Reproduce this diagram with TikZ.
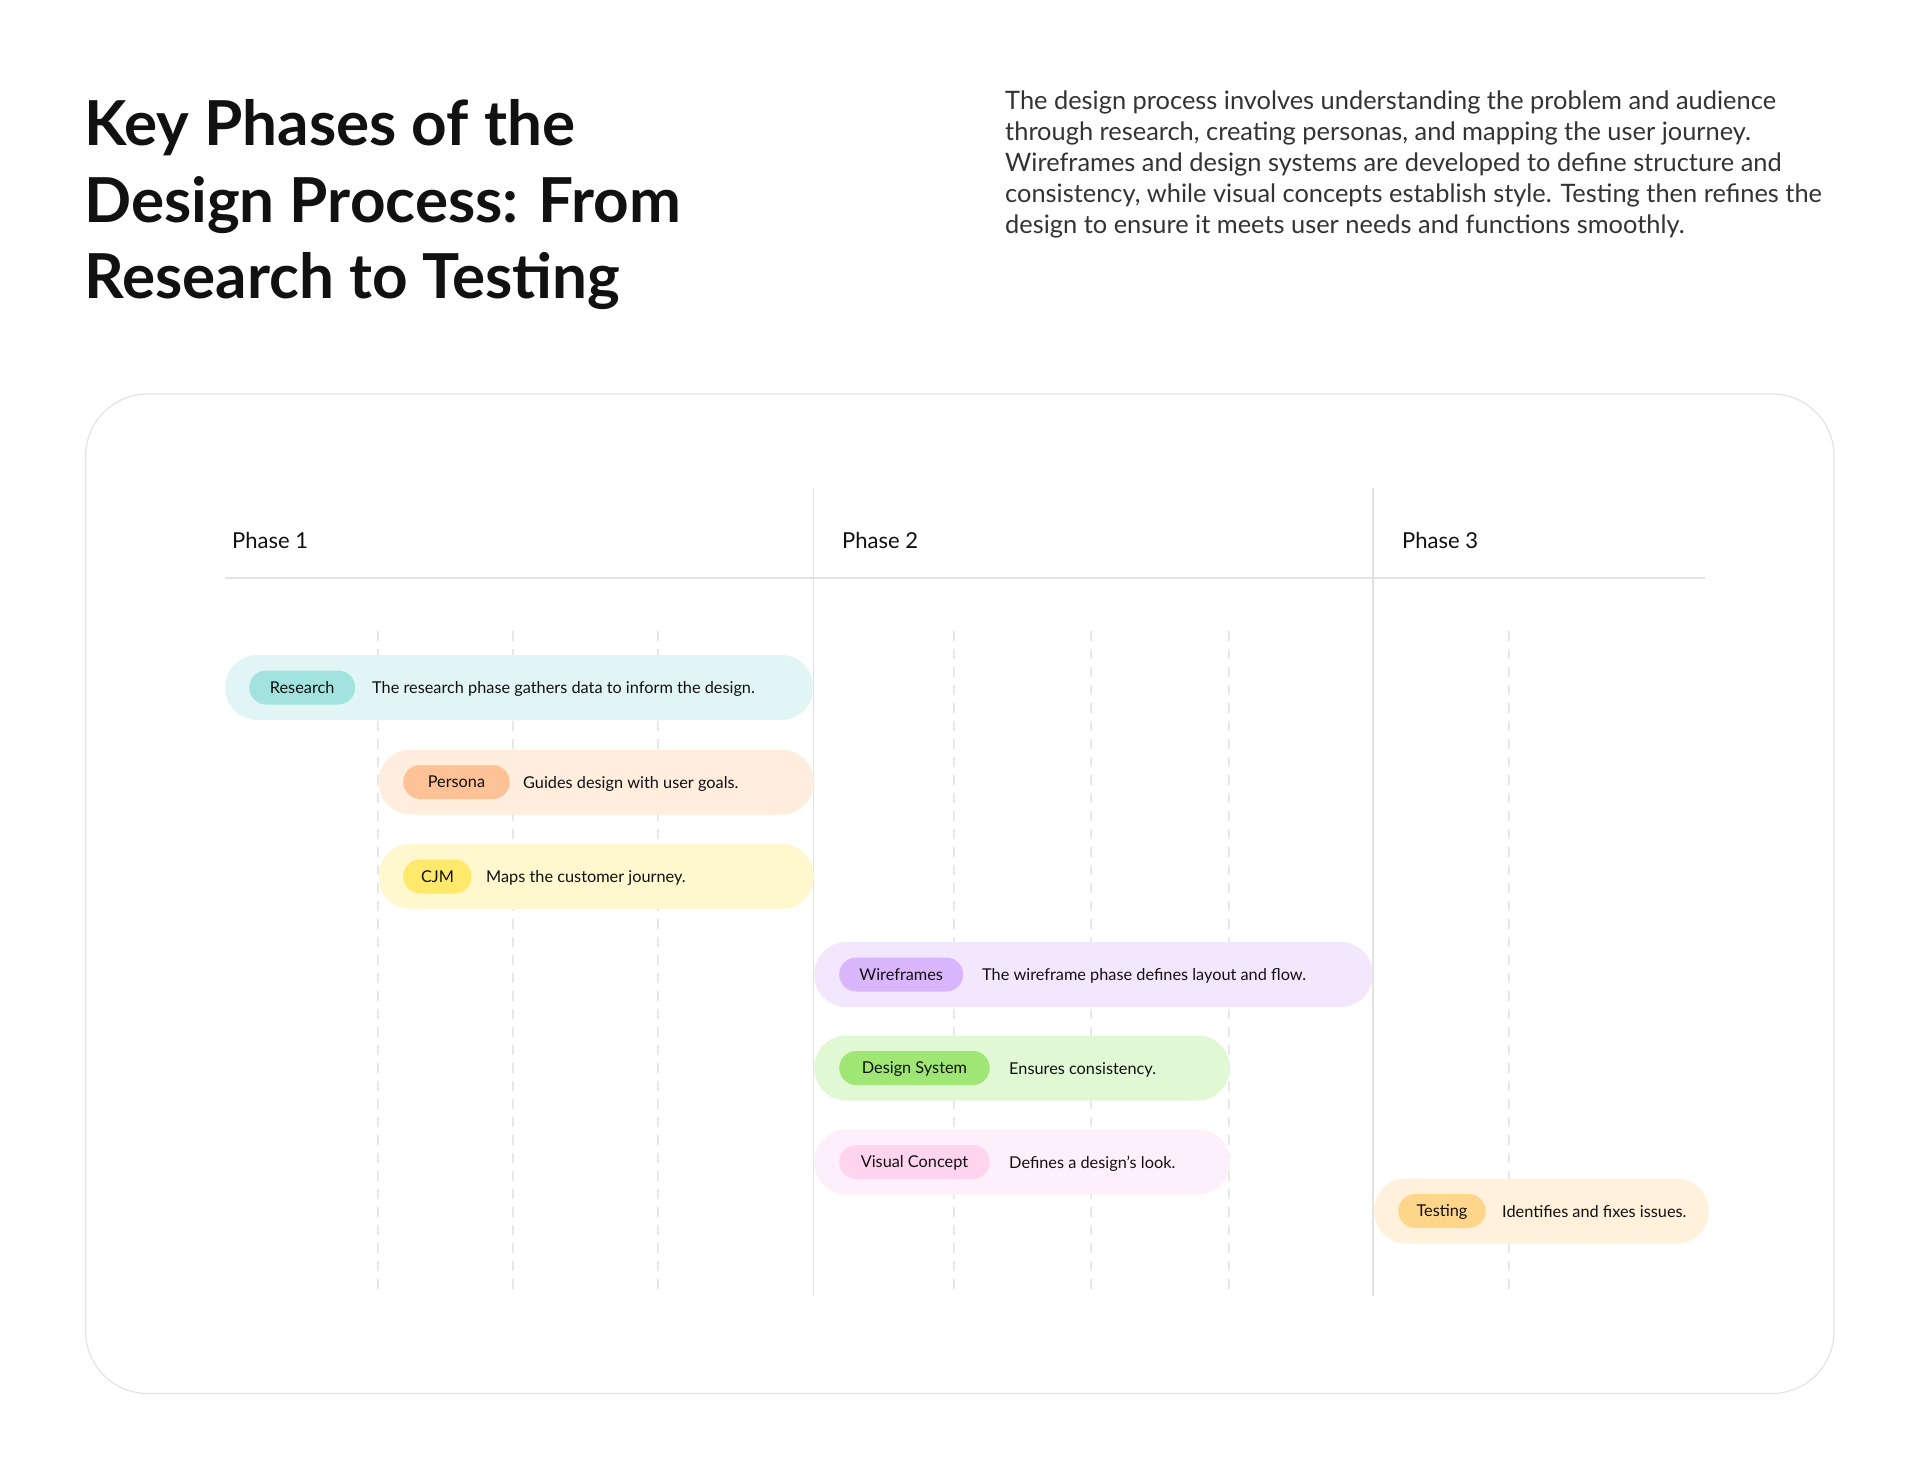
\documentclass[tikz,border=0pt]{standalone}
\usepackage{fontspec}
\setmainfont{Lato}
\definecolor{ink}{HTML}{111111}
\definecolor{para}{HTML}{333333}
\definecolor{frame}{HTML}{E4E4E4}
\definecolor{sep}{HTML}{E2E2E2}
\definecolor{dashc}{HTML}{E8E8E8}
\definecolor{resbg}{HTML}{E1F6F4}\definecolor{restag}{HTML}{A2E3DF}
\definecolor{perbg}{HTML}{FFEDDE}\definecolor{pertag}{HTML}{FFC297}
\definecolor{cjmbg}{HTML}{FFF8CF}\definecolor{cjmtag}{HTML}{FFE96B}
\definecolor{wirbg}{HTML}{F3E7FE}\definecolor{wirtag}{HTML}{D9B6FB}
\definecolor{dsbg}{HTML}{E1F8D5}\definecolor{dstag}{HTML}{A0E674}
\definecolor{vcbg}{HTML}{FEF0FA}\definecolor{vctag}{HTML}{FED4EE}
\definecolor{tstbg}{HTML}{FFF1DB}\definecolor{tsttag}{HTML}{FFD58C}
\begin{document}
\begin{tikzpicture}[x=1pt,y=-1pt,
  bar/.style={rounded corners=32pt, minimum height=65pt, inner sep=0pt, anchor=west},
  tagpill/.style={rounded corners=17pt, minimum height=34pt, inner sep=0pt, anchor=west,
    font=\fontsize{16.3}{19}\selectfont, text=ink, text height=11.7pt, text depth=0pt},
  desc/.style={anchor=base west, inner sep=0pt, font=\fontsize{16.3}{19}\selectfont, text=ink},
  titleline/.style={anchor=base west, inner sep=0pt, text=ink, font=\fontsize{62}{76}\selectfont\bfseries},
  paraline/.style={anchor=base west, inner sep=0pt, text=para, font=\fontsize{25.4}{30}\selectfont},
  phase/.style={anchor=base west, inner sep=0pt, text=ink, font=\fontsize{22}{26}\selectfont},
  sepline/.style={draw=sep, line width=1.2pt},
  dashline/.style={draw=dashc, line width=1.2pt, dash pattern=on 10pt off 8pt}
]
\useasboundingbox (0,0) rectangle (1920,1479);
\fill[white] (0,0) rectangle (1920,1479);

% title
\node[titleline] (t1) at (84,146) {Key Phases of the};
\node[titleline] (t2) at (84,222.5) {Design Process: From};
\node[titleline] (t3) at (84,299) {Research to Testing};

% paragraph
\node[paraline] (p1) at (1005,110) {The design process involves understanding the problem and audience};
\node[paraline] (p2) at (1005,141) {through research, creating personas, and mapping the user journey.};
\node[paraline] (p3) at (1005,172) {Wireframes and design systems are developed to define structure and};
\node[paraline] (p4) at (1005,203) {consistency, while visual concepts establish style. Testing then refines the};
\node[paraline] (p5) at (1005,234) {design to ensure it meets user needs and functions smoothly.};

% frame
\draw[draw=frame, line width=1.2pt, rounded corners=62pt] (85.7,394) rectangle (1834,1393.5);

% header
\node[phase] (ph1) at (232,548) {Phase 1};
\node[phase] (ph2) at (842,548) {Phase 2};
\node[phase] (ph3) at (1402,548) {Phase 3};
\draw[sepline] (225,578) -- (1705,578);
\draw[sepline] (813.5,488) -- (813.5,1296);
\draw[sepline] (1373,488) -- (1373,1296);

% dashed grid
\foreach \gx in {378,513,658,954,1091,1229,1509}
  \draw[dashline] (\gx,631) -- (\gx,1296);

% bars
\node[bar, fill=resbg, minimum width=588pt] (b1) at (225,687.5) {};
\node[tagpill, fill=restag, minimum width=106pt] (g1) at (249,687.5) {Research};
\node[desc] (d1) at (372,693.5) {The research phase gathers data to inform the design.};

\node[bar, fill=perbg, minimum width=435pt] (b2) at (378.5,782) {};
\node[tagpill, fill=pertag, minimum width=106.5pt] (g2) at (403,782) {Persona};
\node[desc] (d2) at (523,788) {Guides design with user goals.};

\node[bar, fill=cjmbg, minimum width=435pt] (b3) at (378.5,876.5) {};
\node[tagpill, fill=cjmtag, minimum width=68.5pt] (g3) at (403,876.5) {CJM};
\node[desc] (d3) at (486,882.5) {Maps the customer journey.};

\node[bar, fill=wirbg, minimum width=558.5pt] (b4) at (814,974.5) {};
\node[tagpill, fill=wirtag, minimum width=124pt] (g4) at (839,974.5) {Wireframes};
\node[desc] (d4) at (982,980.5) {The wireframe phase defines layout and flow.};

\node[bar, fill=dsbg, minimum width=415.5pt] (b5) at (814,1068) {};
\node[tagpill, fill=dstag, minimum width=150.5pt] (g5) at (839,1068) {Design System};
\node[desc] (d5) at (1009,1074) {Ensures consistency.};

\node[bar, fill=vcbg, minimum width=415.5pt] (b6) at (814,1162) {};
\node[tagpill, fill=vctag, minimum width=150.5pt] (g6) at (839,1162) {Visual Concept};
\node[desc] (d6) at (1009,1168) {Defines a design's look.};

\node[bar, fill=tstbg, minimum width=334.5pt] (b7) at (1374,1211) {};
\node[tagpill, fill=tsttag, minimum width=87.5pt] (g7) at (1398,1211) {Testing};
\node[desc] (d7) at (1502,1217) {Identifies and fixes issues.};
\end{tikzpicture}
\end{document}
